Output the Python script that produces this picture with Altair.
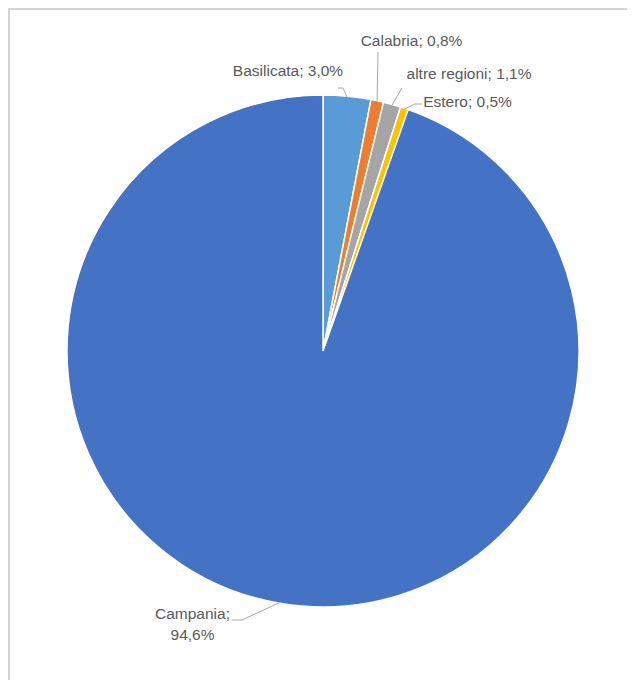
import math
import altair as alt
import pandas as pd

# ---- data ----
categories = ["Basilicata", "Calabria", "altre regioni", "Estero", "Campania"]
values = [3.0, 0.8, 1.1, 0.5, 94.6]
value_labels = ["3,0%", "0,8%", "1,1%", "0,5%", "94,6%"]
colors = ["#5B9BD5", "#ED7D31", "#A5A5A5", "#FFC000", "#4472C4"]

# ---- layout (pixels, chart coordinates) ----
W, H = 619, 672
CX, CY, R = 315, 343, 256
label_centers = [(280, 63), (403.5, 33), (461, 66), (459.5, 94), (184.5, 606)]
leader_ends = [(330, 80), (370, 44), (394, 80), (414, 96), (224, 612)]
leader_elbows = [(335, 80), (370, 44), (394, 80), (407, 96), (234, 612)]

pie_df = pd.DataFrame({
    "cat": categories,
    "value": values,
    "order": list(range(len(categories))),
})

total = sum(values)
cum = 0.0
lines = []
labels = []
for i, (c, v) in enumerate(zip(categories, values)):
    mid = (cum + v / 2) / total * 2 * math.pi
    cum += v
    px = CX + (R - 1) * math.sin(mid)
    py = CY - (R - 1) * math.cos(mid)
    pts = [leader_ends[i], leader_elbows[i], (px, py)]
    for k, (x, y) in enumerate(pts):
        lines.append({"cat": c, "seq": k, "x": x, "y": y})
    sep = "\n" if c == "Campania" else " "
    labels.append({"cat": c, "text": f"{c};{sep}{value_labels[i]}",
                   "x": label_centers[i][0], "y": label_centers[i][1]})

lines_df = pd.DataFrame(lines)
labels_df = pd.DataFrame(labels)

xs = alt.Scale(domain=[0, W], nice=False, zero=False)
ys = alt.Scale(domain=[0, H], nice=False, zero=False, reverse=True)

frame_top = alt.Chart(pd.DataFrame({"a": [0]})).mark_rule(
    color="#D4D4D4", strokeWidth=2
).encode(x=alt.value(0), x2=alt.value(W), y=alt.value(1))
frame_left = alt.Chart(pd.DataFrame({"a": [0]})).mark_rule(
    color="#D4D4D4", strokeWidth=2
).encode(x=alt.value(1), y=alt.value(0), y2=alt.value(H))

pie = alt.Chart(pie_df).mark_arc(
    outerRadius=R, stroke="white", strokeWidth=1.5
).encode(
    theta=alt.Theta("value:Q", stack=True),
    order=alt.Order("order:Q"),
    color=alt.Color("cat:N", scale=alt.Scale(domain=categories, range=colors), legend=None),
    x=alt.value(CX),
    y=alt.value(CY),
)

leaders = alt.Chart(lines_df).mark_line(color="#A6A6A6", strokeWidth=1).encode(
    x=alt.X("x:Q", scale=xs, axis=None),
    y=alt.Y("y:Q", scale=ys, axis=None),
    detail="cat:N",
    order="seq:Q",
)

texts = alt.Chart(labels_df).mark_text(
    font="Liberation Sans", fontSize=15.5, color="#595959",
    align="center", baseline="middle", lineBreak="\n", lineHeight=21
).encode(
    x=alt.X("x:Q", scale=xs, axis=None),
    y=alt.Y("y:Q", scale=ys, axis=None),
    text="text:N",
)

chart = alt.layer(frame_top, frame_left, pie, leaders, texts).properties(
    width=W, height=H, padding=0, autosize=alt.AutoSizeParams(type="none"),
    background="white"
).configure_view(stroke=None)

chart.save("out.html", embed_options={"renderer": "svg", "actions": False})
